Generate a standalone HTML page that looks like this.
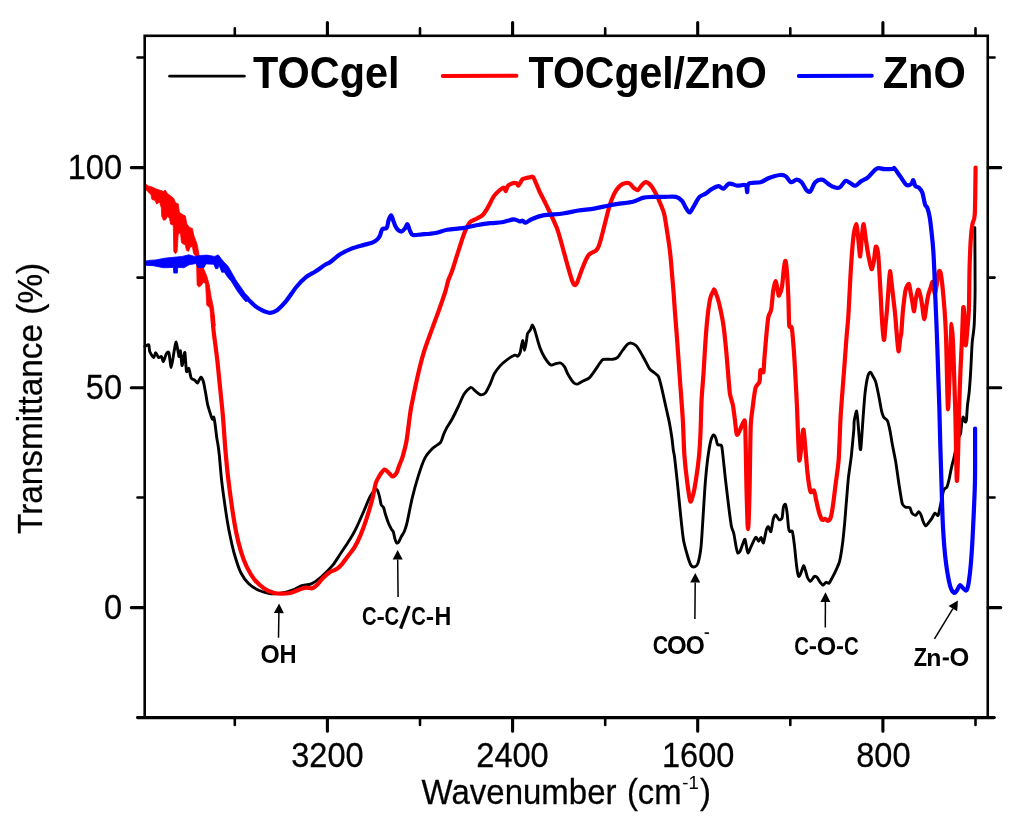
<!DOCTYPE html>
<html><head><meta charset="utf-8"><title>FTIR</title>
<style>
html,body{margin:0;padding:0;background:#fff;}
body{width:1024px;height:825px;overflow:hidden;font-family:"Liberation Sans",sans-serif;}
svg{display:block;will-change:transform;opacity:0.9999}
text{font-family:"Liberation Sans",sans-serif;fill:#000}
.tk{font-size:32.7px;stroke:#000;stroke-width:0.25px}
.lg{font-size:41px;font-weight:bold}
</style></head><body>
<svg width="1024" height="825" viewBox="0 0 1024 825">
<rect width="1024" height="825" fill="#fff"/>
<!-- curves -->
<path d="M144.9 346.5C145.0 346.4 145.4 346.1 145.9 345.9C146.4 345.7 148.3 344.2 148.8 344.9C149.3 345.6 149.2 350.3 149.8 351.8C150.4 353.3 153.0 357.5 153.7 357.6C154.4 357.7 155.0 352.7 155.6 352.7C156.2 352.7 157.9 357.1 158.6 357.6C159.3 358.1 160.9 356.1 161.5 356.6C162.1 357.1 162.8 361.8 163.4 361.5C164.0 361.2 165.7 354.8 166.4 353.7C167.1 352.6 168.3 351.1 168.9 352.7C169.5 354.3 170.6 367.6 171.2 367.4C171.9 367.2 173.6 353.8 174.2 350.8C174.8 347.8 175.6 341.9 176.1 342.0C176.6 342.1 177.7 350.0 178.1 351.8C178.5 353.6 178.8 356.7 179.1 356.6C179.4 356.5 180.1 349.7 180.4 350.8C180.7 351.9 181.6 364.5 182.0 365.4C182.4 366.3 183.1 360.1 183.4 358.6C183.7 357.1 184.5 351.2 184.9 352.7C185.3 354.2 186.0 369.4 186.5 371.3C187.0 373.2 188.2 367.6 188.8 368.4C189.4 369.2 190.5 376.7 191.2 378.1C191.9 379.5 193.9 379.5 194.7 380.1C195.5 380.7 196.9 383.4 197.6 383.0C198.3 382.6 200.2 377.2 200.9 377.1C201.6 377.0 203.0 380.2 203.5 382.0C204.0 383.8 204.9 389.2 205.4 391.8C205.9 394.4 206.9 401.0 207.4 403.5C207.9 406.0 209.3 410.4 209.9 412.3C210.5 414.2 211.8 418.5 212.3 419.1C212.8 419.7 213.5 416.5 213.8 417.2C214.1 417.9 214.9 422.7 215.2 425.0C215.5 427.3 216.3 434.2 216.6 436.7C216.9 439.2 217.8 443.3 218.1 445.5C218.4 447.7 218.9 450.9 219.3 455.0C219.7 459.1 220.8 472.9 221.5 479.3C222.2 485.7 224.5 502.3 225.4 508.6C226.3 514.9 228.2 526.6 229.3 532.0C230.4 537.4 232.8 548.6 234.2 553.5C235.6 558.4 239.2 569.4 241.0 573.0C242.8 576.6 246.7 581.7 248.8 583.8C250.9 585.9 256.2 589.1 258.6 590.2C261.0 591.3 266.1 592.8 268.4 593.2C270.7 593.6 275.8 593.8 278.1 593.6C280.4 593.4 286.0 592.1 287.9 591.6C289.8 591.1 292.1 590.3 293.8 589.6C295.4 588.9 299.5 586.4 301.6 585.7C303.7 585.0 309.0 584.8 311.3 583.8C313.6 582.8 318.5 579.2 321.1 577.0C323.7 574.8 330.5 568.0 332.8 565.2C335.1 562.4 338.7 556.3 340.6 553.5C342.5 550.7 346.5 544.8 348.4 541.8C350.3 538.8 354.4 531.9 356.2 528.1C358.1 524.3 362.5 514.2 364.1 510.5C365.7 506.8 368.6 499.4 369.9 496.9C371.2 494.4 373.9 490.8 374.8 490.0C375.7 489.2 376.8 489.3 377.3 490.0C377.8 490.7 378.8 494.1 379.3 495.9C379.8 497.7 380.7 503.3 381.2 504.7C381.8 506.1 383.1 506.4 383.6 507.6C384.1 508.8 384.9 512.6 385.5 514.5C386.1 516.4 387.8 521.4 388.5 523.2C389.2 525.0 390.8 528.0 391.4 529.1C392.0 530.2 393.0 530.8 393.4 532.0C393.8 533.2 394.5 537.6 394.9 538.9C395.3 540.2 396.2 542.6 396.6 543.0C397.0 543.4 398.0 542.9 398.6 542.1C399.2 541.3 400.8 537.5 401.5 536.2C402.2 534.9 403.7 533.1 404.4 531.3C405.1 529.5 406.4 525.6 407.3 521.6C408.2 517.6 410.9 503.5 412.2 498.1C413.5 492.7 416.6 481.4 418.1 476.6C419.6 471.8 423.1 461.5 424.9 458.1C426.7 454.7 430.8 450.2 432.7 448.3C434.6 446.4 439.2 444.1 440.5 442.5C441.8 440.9 442.8 436.3 443.5 434.6C444.2 432.9 445.3 430.3 446.4 428.4C447.5 426.5 450.9 421.3 452.3 418.7C453.7 416.1 456.7 409.9 458.1 407.0C459.5 404.1 462.5 396.7 464.0 394.3C465.5 391.9 469.4 387.8 470.8 387.4C472.2 387.0 474.5 390.4 475.7 391.3C476.9 392.2 479.4 394.6 480.6 394.8C481.8 395.0 484.3 394.3 485.5 392.9C486.7 391.5 489.3 385.8 490.4 383.5C491.5 381.2 493.1 375.9 494.3 373.8C495.5 371.6 498.5 367.7 500.1 365.9C501.7 364.1 506.1 360.4 507.9 359.1C509.7 357.8 513.6 355.5 514.8 355.2C516.0 354.9 517.1 356.5 517.7 356.2C518.3 355.9 519.6 354.2 520.2 352.3C520.8 350.4 522.1 340.7 522.6 340.5C523.1 340.3 524.0 350.3 524.5 350.3C525.0 350.3 526.1 342.5 526.5 340.5C526.9 338.5 527.0 335.0 527.5 333.7C528.0 332.4 529.8 330.9 530.4 329.8C531.0 328.7 531.8 325.0 532.3 324.9C532.8 324.8 533.7 327.2 534.3 328.8C534.9 330.4 536.5 336.2 537.2 338.6C537.9 341.0 539.3 346.1 540.2 348.4C541.1 350.7 543.7 356.1 545.0 358.1C546.3 360.1 549.6 364.3 550.9 365.0C552.2 365.7 554.6 363.8 555.8 363.6C557.0 363.4 559.6 362.6 560.7 363.0C561.8 363.4 563.7 365.6 564.6 366.9C565.5 368.2 566.7 372.1 567.8 374.0C568.9 375.9 572.5 381.6 573.7 382.8C574.9 384.0 576.4 384.3 577.6 384.1C578.8 383.9 582.0 381.5 583.4 380.8C584.8 380.1 587.9 379.2 589.3 377.9C590.7 376.6 593.7 372.2 595.2 370.1C596.7 368.0 600.7 361.6 602.0 360.3C603.3 359.0 604.6 359.4 605.9 359.3C607.2 359.2 611.3 359.5 612.7 359.3C614.1 359.1 616.4 358.5 617.6 357.4C618.8 356.3 621.3 352.1 622.5 350.5C623.7 348.9 626.3 345.2 627.4 344.3C628.5 343.4 630.2 342.9 631.3 343.1C632.4 343.3 635.1 344.7 636.2 345.7C637.3 346.7 639.0 349.7 640.1 351.5C641.2 353.3 643.8 358.2 645.0 360.3C646.2 362.4 648.6 367.6 649.8 369.1C651.0 370.6 653.6 372.1 654.7 373.0C655.8 373.9 657.8 375.1 658.6 376.9C659.4 378.7 660.8 384.3 661.6 387.7C662.4 391.1 664.6 401.0 665.5 405.2C666.4 409.4 668.7 419.0 669.4 422.8C670.1 426.6 671.2 433.2 671.7 436.5C672.2 439.8 673.0 447.5 673.3 450.0C673.6 452.5 674.1 453.1 674.6 457.3C675.1 461.5 676.9 477.9 677.6 484.7C678.3 491.5 679.8 507.4 680.5 514.0C681.2 520.6 682.6 534.5 683.4 539.4C684.2 544.3 686.4 551.8 687.3 555.0C688.2 558.2 690.3 564.3 691.2 565.7C692.2 567.1 694.4 567.0 695.2 566.7C696.0 566.4 697.4 565.1 698.1 562.8C698.8 560.5 700.4 552.6 701.0 547.2C701.6 541.8 702.5 525.6 703.0 517.9C703.5 510.2 704.7 490.0 705.3 482.7C705.9 475.4 707.2 462.3 707.9 457.3C708.6 452.3 710.1 443.4 710.8 440.7C711.5 438.0 713.1 435.2 713.7 434.9C714.3 434.6 715.2 436.6 715.7 437.8C716.2 439.0 716.9 443.7 717.6 444.6C718.3 445.5 720.9 444.3 721.5 445.6C722.1 446.9 722.4 451.4 722.9 455.4C723.4 459.4 724.7 472.9 725.4 478.8C726.1 484.7 727.7 498.6 728.4 504.2C729.1 509.8 730.7 522.2 731.3 525.7C731.9 529.2 733.2 530.9 733.8 533.5C734.4 536.1 735.7 544.9 736.2 547.2C736.7 549.5 737.2 552.5 737.7 553.0C738.2 553.5 739.5 552.3 740.1 551.1C740.7 549.9 742.4 544.7 743.0 543.3C743.6 541.9 744.5 538.7 745.0 539.4C745.5 540.1 746.5 547.5 746.9 549.1C747.3 550.7 747.8 553.2 748.3 553.0C748.8 552.8 749.9 549.1 750.8 547.2C751.7 545.3 754.8 538.1 755.7 537.4C756.6 536.7 758.0 541.3 758.6 541.3C759.2 541.3 760.4 537.2 761.0 537.4C761.6 537.6 762.9 543.8 763.5 542.9C764.1 542.0 765.8 531.5 766.4 529.6C767.0 527.7 767.9 526.5 768.4 526.7C768.9 526.9 770.3 532.5 770.9 531.6C771.5 530.7 772.7 520.9 773.3 518.9C773.9 516.9 774.9 514.9 775.6 515.0C776.3 515.1 778.3 519.5 779.1 519.8C779.9 520.1 781.6 519.4 782.1 517.9C782.6 516.4 783.0 508.7 783.4 507.1C783.8 505.5 785.0 503.6 785.4 504.2C785.8 504.8 786.6 509.2 787.0 512.0C787.4 514.8 788.2 525.3 788.5 527.7C788.8 530.1 789.4 531.1 789.9 531.6C790.4 532.1 791.9 530.0 792.4 531.6C792.9 533.2 793.9 541.0 794.4 545.2C794.9 549.4 796.2 562.9 796.7 566.7C797.2 570.5 798.2 575.8 798.7 576.5C799.2 577.2 800.4 573.9 801.0 572.6C801.6 571.3 803.1 565.9 803.6 565.7C804.1 565.5 805.0 569.2 805.5 570.6C806.0 572.0 806.9 576.2 807.5 577.5C808.1 578.8 809.6 581.5 810.4 581.4C811.2 581.3 813.5 577.0 814.3 576.5C815.1 576.0 816.5 576.8 817.2 577.5C817.9 578.2 819.5 581.4 820.2 582.3C820.9 583.2 822.4 585.3 823.1 585.3C823.8 585.3 825.3 582.5 826.0 582.3C826.7 582.1 828.2 583.8 828.9 583.3C829.6 582.8 831.1 579.9 831.9 578.4C832.7 576.9 834.9 572.7 835.8 570.6C836.7 568.5 838.9 564.2 839.7 560.9C840.5 557.6 842.0 547.8 842.6 543.3C843.2 538.8 844.1 528.9 844.6 523.8C845.1 518.6 846.0 505.9 846.5 500.3C847.0 494.7 847.9 482.3 848.5 476.9C849.1 471.5 850.8 461.0 851.4 455.4C852.0 449.8 853.4 434.1 853.8 430.0C854.1 425.9 853.9 423.3 854.2 421.0C854.6 418.7 856.1 410.6 856.6 411.1C857.1 411.6 857.8 420.3 858.2 424.8C858.6 429.3 859.8 445.6 860.1 448.2C860.4 450.8 860.8 449.8 861.1 446.3C861.4 442.8 862.5 425.3 863.0 419.0C863.5 412.7 864.4 398.8 865.0 393.6C865.6 388.4 867.2 378.6 867.9 376.0C868.6 373.4 869.9 372.1 870.5 372.1C871.1 372.1 872.2 374.8 872.8 376.0C873.4 377.2 875.0 379.5 875.7 381.8C876.4 384.1 878.0 392.0 878.7 395.5C879.4 399.0 881.0 408.5 881.6 411.1C882.2 413.7 882.9 415.8 883.6 417.0C884.3 418.2 886.7 419.3 887.5 420.9C888.3 422.5 889.4 427.9 890.0 430.7C890.6 433.5 891.6 440.6 892.3 444.3C893.0 448.0 894.9 457.1 895.7 461.8C896.5 466.5 898.1 478.7 898.9 483.7C899.7 488.7 901.4 500.5 902.2 503.3C903.0 506.1 904.6 506.7 905.5 507.2C906.4 507.7 909.0 507.0 909.8 507.7C910.6 508.4 911.3 512.2 912.0 513.1C912.7 514.0 914.9 515.5 915.7 515.3C916.5 515.1 917.9 511.6 918.6 511.6C919.3 511.6 920.7 514.2 921.2 515.3C921.7 516.4 922.4 519.5 922.9 520.8C923.4 522.1 924.9 525.5 925.6 525.8C926.3 526.1 927.7 523.9 928.4 523.0C929.1 522.1 930.9 519.8 931.7 518.6C932.5 517.4 934.1 513.5 934.9 513.1C935.7 512.7 937.5 516.2 938.2 515.3C938.9 514.4 939.7 508.5 940.4 505.5C941.1 502.5 942.9 492.4 943.7 490.2C944.5 488.0 946.4 488.2 947.0 486.9C947.6 485.6 948.6 481.5 949.1 479.3C949.6 477.1 950.8 470.8 951.3 468.4C951.8 466.0 952.9 462.0 953.5 459.6C954.1 457.2 955.4 450.6 956.0 448.0C956.6 445.4 957.9 439.7 958.5 438.0C959.1 436.3 960.2 435.2 960.6 433.5C961.0 431.8 961.3 425.8 961.6 423.8C961.9 421.8 962.7 417.2 963.1 417.0C963.5 416.8 964.7 421.6 965.1 421.9C965.5 422.2 966.1 421.8 966.4 419.9C966.7 418.0 967.1 409.8 967.4 406.3C967.7 402.8 968.9 395.4 969.3 390.8C969.7 386.2 970.6 373.4 970.9 367.6C971.2 361.8 971.8 347.5 972.2 342.4C972.6 337.3 973.9 331.2 974.2 324.9C974.5 318.6 975.0 301.7 975.1 290.0C975.2 278.3 974.8 235.1 974.8 227.6" fill="none" stroke="#000" stroke-width="2.9" stroke-linejoin="round" stroke-linecap="round"/>
<polygon points="144.4,183.2 148.2,185.9 152.0,187.0 156.4,189.0 160.2,190.3 163.5,191.4 165.3,190.1 167.3,193.5 170.5,195.7 173.8,198.5 175.5,202.8 178.2,203.9 179.3,212.1 182.0,214.3 185.3,215.9 186.9,224.1 189.6,227.4 192.4,228.5 194.0,236.1 196.2,241.5 197.5,246.0 198.9,254.4 203.2,267.7 206.8,276.2 209.2,284.7 211.1,296.8 213.5,307.7 215.3,325.9 211.8,327.0 211.1,319.8 209.8,307.7 206.8,305.3 205.6,283.5 203.2,282.3 201.4,285.3 198.9,287.1 197.1,284.7 196.5,257.4 193.5,253.2 192.4,246.5 190.2,247.0 188.5,251.4 186.4,250.3 185.3,244.8 183.6,244.3 181.5,242.6 180.4,232.8 178.2,233.9 177.1,251.4 175.5,253.8 173.8,251.4 173.3,225.2 170.5,224.1 169.5,218.1 167.3,216.5 165.6,219.7 163.5,220.3 161.8,216.5 161.3,207.7 159.6,202.3 156.4,203.9 155.3,200.6 152.0,199.5 150.9,194.6 147.6,191.4 144.4,188.1" fill="#ff0000" stroke="#ff0000" stroke-width="0.8" stroke-linejoin="round"/>
<path d="M212.6 316.0C212.7 317.7 212.8 323.8 213.4 329.3C214.0 334.8 216.2 351.0 217.1 358.6C218.0 366.2 219.3 380.3 220.1 387.9C220.9 395.5 222.3 409.1 223.0 417.2C223.7 425.3 224.7 441.9 225.4 450.0C226.1 458.1 227.4 471.7 228.3 479.3C229.2 486.9 231.2 501.7 232.2 508.6C233.2 515.5 235.0 526.4 236.1 532.0C237.2 537.6 239.6 547.0 241.0 551.6C242.4 556.2 245.1 563.5 246.9 567.2C248.7 570.9 252.4 577.1 254.7 579.9C257.0 582.7 262.0 587.0 264.5 588.7C267.0 590.4 271.9 592.4 274.2 593.0C276.5 593.6 280.0 593.6 282.0 593.6C284.0 593.6 288.0 593.3 289.8 593.0C291.6 592.7 294.2 591.6 295.7 591.0C297.2 590.4 300.2 589.1 301.6 588.7C303.0 588.3 305.0 587.8 306.4 587.7C307.8 587.6 310.9 588.7 312.3 588.3C313.7 587.9 315.8 586.2 317.2 584.8C318.6 583.4 321.3 579.6 323.0 577.9C324.7 576.2 328.1 573.2 329.9 572.1C331.7 571.0 335.0 570.2 336.7 569.1C338.4 568.0 341.1 565.1 342.6 563.3C344.1 561.5 346.9 557.5 348.4 555.5C349.9 553.5 352.8 550.2 354.3 547.7C355.8 545.2 358.7 539.5 360.2 535.9C361.7 532.3 364.5 524.9 366.0 520.3C367.5 515.7 370.6 505.6 371.9 500.8C373.2 496.0 374.8 486.5 375.8 483.2C376.8 479.9 378.6 477.2 379.7 475.4C380.8 473.6 383.5 469.9 384.6 469.5C385.7 469.1 387.5 471.6 388.5 472.5C389.5 473.4 391.4 476.3 392.4 476.4C393.4 476.5 395.4 474.8 396.3 473.4C397.2 472.0 398.4 467.7 399.2 465.6C400.0 463.5 401.6 460.2 402.5 457.1C403.4 454.0 405.5 446.3 406.4 441.5C407.3 436.7 408.7 424.5 409.3 420.0C409.9 415.5 410.2 412.5 411.2 407.0C412.3 401.5 415.7 384.8 417.3 377.7C418.9 370.6 421.8 358.9 423.8 352.3C425.8 345.7 430.7 332.8 432.8 326.9C434.9 321.0 438.4 311.9 440.0 307.3C441.6 302.7 444.2 295.2 445.3 291.7C446.4 288.2 447.5 282.7 448.4 280.0C449.3 277.3 450.7 274.8 452.0 271.1C453.3 267.4 456.6 256.4 458.2 251.6C459.8 246.8 462.5 237.8 464.0 234.0C465.5 230.2 468.3 224.3 469.9 222.3C471.5 220.3 474.9 219.6 476.5 218.8C478.1 217.9 480.9 216.7 482.3 215.4C483.7 214.1 485.7 211.1 487.2 208.6C488.7 206.1 492.4 198.3 494.1 195.9C495.8 193.5 498.6 191.1 499.9 190.0C501.2 188.9 503.0 187.4 503.8 187.5C504.6 187.6 505.3 191.2 505.8 191.0C506.3 190.8 506.8 187.1 507.7 186.1C508.6 185.1 511.5 183.6 512.6 183.2C513.7 182.8 515.7 182.9 516.5 183.2C517.3 183.5 517.7 186.0 518.5 185.5C519.3 185.0 521.5 180.2 522.4 179.3C523.3 178.4 524.3 178.6 525.3 178.3C526.3 178.0 528.9 177.4 530.0 177.3C531.1 177.2 532.2 175.5 533.4 177.3C534.6 179.1 537.5 187.2 539.3 191.0C541.1 194.8 544.8 201.8 547.1 206.6C549.4 211.4 554.9 222.8 556.9 228.1C558.9 233.4 561.2 242.4 562.7 247.7C564.2 253.0 567.3 264.7 568.6 269.1C569.9 273.5 571.7 279.7 572.5 281.8C573.3 283.9 574.4 285.2 575.0 285.2C575.6 285.2 576.6 283.6 577.4 281.8C578.2 280.0 580.3 273.8 581.3 271.1C582.3 268.4 584.2 263.5 585.2 261.3C586.2 259.1 587.7 255.9 589.1 254.5C590.5 253.1 594.6 251.7 595.9 250.6C597.2 249.5 598.0 248.1 598.9 245.7C599.8 243.3 601.7 236.3 602.8 232.0C603.9 227.7 606.6 216.7 607.7 212.5C608.8 208.3 610.5 202.7 611.6 199.8C612.7 196.9 615.0 192.0 616.4 190.0C617.8 188.0 620.6 185.1 622.3 184.2C624.0 183.3 627.6 182.7 629.1 183.2C630.6 183.7 632.9 187.2 634.0 188.1C635.1 189.0 636.9 190.4 637.9 190.0C638.9 189.6 640.8 186.2 641.8 185.2C642.8 184.2 644.6 182.2 645.7 182.2C646.8 182.2 649.3 183.8 650.6 185.2C651.9 186.6 654.2 190.6 655.5 193.0C656.8 195.4 659.3 200.9 660.4 203.7C661.5 206.5 663.4 210.8 664.3 214.5C665.2 218.2 666.4 226.9 667.2 232.0C668.0 237.1 669.6 247.9 670.2 253.5C670.8 259.1 671.7 269.9 672.1 275.0C672.5 280.1 673.2 287.3 673.6 292.6C674.0 297.9 674.7 309.1 675.2 315.4C675.7 321.7 676.7 333.9 677.2 340.8C677.7 347.7 678.6 361.0 679.1 368.1C679.6 375.2 680.6 388.4 681.1 395.5C681.6 402.6 682.6 415.0 683.0 422.8C683.4 430.6 683.8 447.6 684.4 455.4C685.0 463.2 686.5 476.7 687.3 482.7C688.1 488.7 689.5 499.8 690.3 501.3C691.1 502.8 692.4 497.4 693.2 494.5C694.0 491.6 695.3 483.9 696.1 478.8C696.9 473.7 698.5 461.7 699.1 455.4C699.7 449.1 700.3 437.3 700.6 430.0C700.9 422.7 701.2 406.9 701.6 399.4C702.0 391.9 703.1 379.6 703.6 372.0C704.1 364.4 705.0 347.9 705.5 340.8C706.0 333.7 706.9 322.9 707.5 317.3C708.1 311.7 709.6 301.2 710.4 297.8C711.2 294.4 712.8 292.1 713.3 291.0C713.8 289.9 713.7 289.2 714.1 289.6C714.5 290.0 715.6 292.1 716.2 293.9C716.9 295.7 718.5 300.9 719.2 303.7C719.9 306.5 721.1 312.4 721.7 315.4C722.3 318.4 723.1 322.8 723.7 327.1C724.3 331.4 725.4 342.8 726.0 348.6C726.6 354.4 727.5 366.2 728.0 372.0C728.5 377.8 729.3 389.2 729.9 393.5C730.5 397.8 732.3 401.9 732.9 405.2C733.5 408.5 734.3 415.1 734.8 418.9C735.3 422.7 736.2 433.0 736.8 434.5C737.4 436.0 738.8 432.3 739.7 430.6C740.6 428.9 742.9 422.4 743.6 421.8C744.3 421.2 744.8 417.3 745.2 426.0C745.6 434.7 746.2 475.7 746.5 488.6C746.8 501.5 747.4 520.7 747.6 525.5C747.8 530.3 748.1 530.3 748.4 525.5C748.7 520.7 749.3 501.4 749.6 488.6C749.9 475.8 750.3 437.3 750.7 426.7C751.1 416.1 752.1 412.3 752.7 407.2C753.3 402.1 754.7 391.0 755.6 387.7C756.5 384.4 758.9 384.1 759.5 381.8C760.1 379.5 760.0 371.4 760.5 370.1C761.0 368.8 762.9 373.5 763.4 372.0C763.9 370.5 764.0 363.2 764.4 358.4C764.8 353.6 765.9 340.2 766.4 334.9C766.9 329.6 767.7 320.6 768.3 317.3C768.9 314.0 770.6 313.0 771.2 309.5C771.9 306.0 772.6 294.3 773.2 290.6C773.8 286.9 775.2 281.0 775.8 281.2C776.4 281.5 777.7 290.7 778.1 292.6C778.5 294.5 778.6 296.3 779.1 295.5C779.6 294.7 781.4 290.4 782.0 286.7C782.6 283.0 783.5 270.6 784.0 267.2C784.5 263.8 785.1 260.4 785.5 260.9C785.9 261.4 786.5 266.2 786.9 271.1C787.3 276.0 788.1 291.4 788.4 298.4C788.7 305.4 788.8 321.3 789.2 325.2C789.6 329.1 791.2 325.1 791.8 328.1C792.4 331.1 793.2 342.1 793.7 348.6C794.2 355.1 795.1 370.3 795.5 377.9C795.9 385.5 796.7 399.9 797.0 407.2C797.3 414.5 797.7 427.1 798.0 434.0C798.3 440.9 798.9 458.3 799.3 460.3C799.7 462.3 800.6 452.9 801.0 449.5C801.4 446.1 802.2 436.4 802.5 433.9C802.8 431.4 803.3 428.7 803.6 430.0C803.9 431.3 804.5 438.1 805.0 443.7C805.5 449.3 806.8 466.8 807.5 473.0C808.2 479.2 809.6 489.2 810.4 491.5C811.2 493.8 813.1 489.4 813.9 490.5C814.7 491.6 815.6 497.4 816.2 500.3C816.9 503.2 818.4 510.5 819.2 513.0C820.0 515.5 821.3 519.0 822.1 519.8C822.9 520.6 824.2 518.8 825.0 518.9C825.8 519.0 827.2 521.1 828.0 520.8C828.8 520.5 830.2 519.3 830.9 516.9C831.6 514.5 832.8 506.7 833.4 502.3C834.0 497.9 835.1 488.3 835.8 482.7C836.5 477.1 838.1 467.8 838.7 459.3C839.3 450.8 840.0 427.6 840.6 417.0C841.2 406.4 842.7 388.1 843.5 377.9C844.3 367.7 845.8 346.9 846.4 338.8C847.0 330.7 847.9 323.4 848.4 315.4C848.9 307.4 849.8 287.1 850.4 277.0C851.0 266.9 852.5 244.8 853.3 237.9C854.1 231.0 855.6 224.2 856.2 224.2C856.9 224.2 857.7 233.7 858.2 237.9C858.7 242.1 859.7 256.9 860.2 256.4C860.7 255.9 861.6 238.2 862.1 234.0C862.6 229.8 863.2 223.7 863.7 224.2C864.2 224.7 865.0 233.8 865.6 237.9C866.2 242.0 867.6 251.4 868.4 255.5C869.2 259.6 870.8 268.3 871.5 269.1C872.2 269.9 873.2 264.2 873.8 261.3C874.4 258.4 875.2 247.7 875.8 246.7C876.4 245.7 877.6 249.6 878.1 253.5C878.6 257.4 879.2 269.2 879.7 277.0C880.2 284.8 881.1 305.2 881.6 313.4C882.1 321.6 883.4 338.3 883.9 339.8C884.4 341.3 885.1 328.9 885.5 325.0C885.9 321.1 886.6 314.8 887.0 309.7C887.4 304.6 888.3 291.0 888.7 286.0C889.1 281.0 889.6 271.5 890.0 271.2C890.4 270.9 891.3 280.5 891.7 284.0C892.1 287.5 892.8 293.8 893.3 298.0C893.8 302.2 894.9 311.7 895.3 316.0C895.7 320.3 896.1 326.4 896.5 331.0C896.9 335.6 898.0 350.4 898.5 351.3C899.0 352.2 899.9 340.4 900.3 338.0C900.7 335.6 900.9 336.6 901.3 333.0C901.7 329.4 902.4 315.6 903.0 310.0C903.6 304.4 904.8 293.4 905.6 290.0C906.4 286.6 908.2 283.5 908.9 284.0C909.6 284.5 910.3 291.0 910.8 293.5C911.3 296.0 912.1 300.7 912.5 303.0C912.9 305.3 913.7 311.6 914.1 311.3C914.5 311.0 915.0 303.8 915.5 301.0C916.0 298.2 917.6 290.2 918.2 289.6C918.9 289.0 920.0 293.9 920.5 296.0C921.0 298.1 921.7 302.5 922.2 305.5C922.7 308.5 923.7 319.2 924.3 319.1C924.9 319.0 926.0 308.3 926.5 305.0C927.0 301.7 928.0 296.2 928.5 294.0C929.0 291.8 930.0 289.6 930.5 288.0C931.0 286.4 932.2 281.3 932.7 282.0C933.2 282.7 934.2 293.0 934.7 293.5C935.2 294.0 936.1 288.5 936.6 285.7C937.1 282.9 938.0 274.0 938.5 272.2C939.0 270.4 940.0 270.4 940.5 272.2C941.0 274.0 941.9 280.9 942.4 285.7C942.9 290.5 944.0 302.5 944.5 309.4C945.0 316.3 945.8 329.7 946.1 338.5C946.4 347.3 946.8 368.1 947.0 377.3C947.2 386.5 947.7 409.3 948.0 409.3C948.3 409.3 949.1 386.5 949.5 377.3C949.9 368.1 950.6 345.4 950.9 338.5C951.2 331.6 951.3 323.9 951.5 323.9C951.7 323.9 952.4 331.6 952.8 338.5C953.2 345.4 953.9 367.2 954.2 377.3C954.5 387.4 955.1 402.6 955.4 416.0C955.7 429.4 956.4 476.0 956.8 480.4C957.2 484.8 957.9 459.6 958.2 450.0C958.5 440.4 958.9 417.0 959.2 406.3C959.5 395.6 960.2 376.4 960.6 367.6C961.0 358.8 961.7 346.1 962.0 338.5C962.3 330.9 962.9 313.2 963.1 309.4C963.3 305.6 963.7 306.9 963.9 309.4C964.1 311.9 964.7 324.1 964.9 328.8C965.1 333.5 965.5 345.3 965.8 345.3C966.1 345.3 967.0 333.5 967.4 328.8C967.8 324.1 968.6 317.5 968.9 309.4C969.2 301.3 969.3 275.7 969.6 266.3C969.9 256.9 970.5 242.8 970.9 237.3C971.3 231.8 972.0 226.7 972.5 223.7C973.0 220.7 974.4 221.3 974.8 214.0C975.2 206.7 975.5 173.5 975.6 167.5" fill="none" stroke="#ff0000" stroke-width="4.2" stroke-linejoin="round" stroke-linecap="round"/>
<polygon points="144.4,261.3 148.8,260.4 155.8,259.9 164.6,258.2 173.4,257.3 182.2,256.4 188.8,254.8 194.5,256.4 200.6,255.5 206.8,255.1 214.7,256.4 218.2,254.8 220.8,258.2 224.4,262.6 227.9,266.0 230.0,269.5 235.9,280.0 240.8,287.1 245.0,293.2 249.0,297.5 246.0,302.0 242.0,297.4 237.1,290.8 231.1,281.0 227.9,277.5 224.4,272.2 221.7,272.2 219.1,265.2 217.8,268.7 215.6,268.7 213.8,264.3 205.9,263.9 204.1,267.4 198.0,267.8 196.2,263.5 189.2,264.8 183.9,267.8 177.8,267.4 177.3,273.1 173.8,273.1 173.4,267.4 163.7,267.8 153.2,265.7 144.4,265.2" fill="#0000ff" stroke="#0000ff" stroke-width="0.8" stroke-linejoin="round"/>
<path d="M245.5 297.0C245.8 297.3 245.5 297.0 247.4 298.7C249.3 300.4 253.8 305.3 257.2 307.5C260.6 309.7 265.8 312.2 268.9 312.7C272.0 313.2 273.9 312.3 276.7 310.4C279.5 308.5 283.4 304.3 286.5 300.6C289.6 296.9 293.2 290.7 296.3 287.0C299.4 283.3 302.9 279.7 306.0 277.2C309.1 274.7 312.7 273.3 315.8 271.3C318.9 269.3 323.2 265.9 325.5 264.5C327.8 263.1 327.7 263.9 330.0 262.3C332.3 260.7 336.4 256.7 339.8 254.5C343.2 252.3 347.8 250.1 351.5 248.6C355.2 247.1 359.9 246.0 363.2 245.1C366.5 244.2 369.8 243.6 372.0 242.8C374.2 242.0 375.7 240.9 376.9 239.8C378.1 238.7 378.9 237.6 379.8 235.9C380.7 234.2 381.2 230.3 382.3 229.1C383.4 227.9 385.6 229.5 386.6 228.1C387.6 226.7 387.9 222.3 388.6 220.3C389.3 218.3 390.3 215.2 391.1 215.4C391.9 215.6 392.7 219.3 393.5 221.3C394.3 223.3 395.2 226.5 396.4 228.1C397.6 229.7 399.9 231.6 401.3 231.6C402.7 231.6 404.2 229.3 405.2 228.1C406.2 226.9 406.7 223.7 407.5 224.2C408.3 224.7 409.2 229.4 410.1 231.1C411.0 232.8 411.1 234.5 413.0 235.0C414.9 235.5 418.2 234.7 421.8 234.4C425.4 234.1 431.4 233.8 435.5 233.0C439.6 232.2 442.8 230.5 447.2 229.7C451.6 228.9 458.1 228.8 462.8 228.1C467.5 227.4 472.1 226.0 476.5 225.2C480.9 224.4 486.1 223.7 490.2 223.2C494.3 222.7 498.2 222.9 501.9 222.3C505.6 221.7 510.8 219.5 513.6 219.3C516.4 219.1 518.0 221.1 519.5 221.3C521.0 221.5 521.7 220.5 522.7 220.7C523.7 220.9 524.2 222.9 525.6 222.7C527.0 222.5 528.7 220.5 531.5 219.3C534.3 218.1 538.2 216.3 543.2 215.4C548.2 214.5 557.1 214.3 562.7 213.5C568.3 212.7 573.4 211.3 578.4 210.5C583.4 209.7 589.3 209.4 594.0 208.6C598.7 207.8 603.6 206.5 607.7 205.7C611.8 204.9 615.4 204.3 619.4 203.7C623.4 203.1 629.3 202.7 633.0 201.8C636.7 200.9 639.7 198.7 642.8 197.9C645.9 197.1 649.2 197.1 652.6 196.9C656.0 196.7 660.6 196.9 664.3 196.9C668.0 196.9 673.2 196.3 676.0 196.9C678.8 197.5 680.3 199.1 681.9 200.8C683.5 202.5 684.6 205.7 685.8 207.6C687.0 209.5 688.5 212.7 689.7 212.5C690.9 212.3 692.0 209.1 693.6 206.6C695.2 204.1 697.6 198.9 699.5 196.9C701.4 194.9 703.3 195.1 705.3 193.9C707.3 192.7 709.6 190.3 711.7 189.1C713.8 187.9 716.7 186.2 718.6 186.1C720.5 186.0 721.7 189.1 723.4 188.7C725.1 188.3 727.1 184.1 729.3 183.6C731.5 183.1 734.8 185.5 737.1 185.7C739.4 185.9 742.4 184.8 743.9 184.8C745.4 184.8 745.8 184.8 746.3 186.0C746.8 187.2 746.9 192.4 747.3 192.0C747.7 191.6 746.7 185.2 748.8 183.6C750.9 182.0 757.4 183.0 760.5 182.2C763.6 181.4 765.3 179.5 768.4 178.3C771.5 177.1 777.3 175.3 780.1 175.0C782.9 174.7 784.2 175.2 785.9 176.4C787.6 177.6 789.1 181.7 790.8 182.2C792.5 182.7 795.0 179.7 796.7 179.7C798.4 179.7 800.0 180.6 801.6 182.2C803.2 183.8 805.0 188.5 806.4 190.0C807.8 191.5 809.0 192.6 810.4 191.4C811.8 190.2 813.3 184.1 815.2 182.2C817.1 180.3 820.1 179.5 822.1 179.7C824.1 179.9 826.0 182.4 827.9 183.6C829.8 184.8 831.9 186.5 833.8 187.1C835.7 187.7 837.7 188.5 839.6 187.5C841.5 186.5 843.8 181.6 845.5 180.9C847.2 180.2 848.8 182.4 850.4 183.2C852.0 184.0 853.6 186.0 855.3 185.7C857.0 185.4 859.1 182.6 861.1 181.2C863.1 179.9 865.5 179.3 868.0 177.3C870.5 175.3 874.1 169.9 876.8 168.6C879.5 167.3 881.9 169.1 884.6 169.1C887.3 169.1 891.8 169.0 893.4 168.9C895.0 168.8 893.3 167.1 894.5 168.4C895.7 169.7 898.8 174.5 900.7 177.1C902.6 179.7 904.8 183.8 906.5 184.9C908.2 186.0 910.3 184.7 911.4 183.9C912.5 183.1 912.7 179.8 913.3 180.1C913.9 180.4 914.4 184.7 915.3 185.9C916.2 187.1 918.0 186.7 919.1 187.8C920.2 188.9 921.5 190.1 922.4 192.7C923.3 195.3 924.2 201.8 925.0 204.3C925.8 206.8 926.7 206.0 927.5 208.2C928.3 210.4 929.1 213.9 929.8 217.9C930.5 221.9 931.1 228.1 931.7 233.4C932.3 238.7 932.9 244.9 933.3 250.8C933.7 256.7 934.0 263.9 934.3 270.2C934.6 276.5 934.6 281.2 935.0 290.0C935.4 298.8 936.0 312.6 936.5 325.0C937.0 337.4 937.6 354.6 938.0 367.6C938.4 380.6 938.9 393.9 939.3 406.3C939.7 418.7 939.9 432.6 940.3 445.0C940.7 457.4 941.1 470.5 941.5 483.7C941.9 496.9 942.3 514.7 943.0 527.3C943.7 539.9 944.7 552.8 945.9 562.2C947.1 571.6 948.9 581.4 950.2 586.3C951.5 591.2 952.8 592.1 953.9 592.8C955.0 593.5 955.8 591.8 956.8 590.6C957.8 589.4 959.0 585.6 960.0 585.2C961.0 584.8 962.2 587.6 963.3 588.4C964.4 589.2 965.7 591.2 966.6 590.2C967.5 589.2 968.1 586.4 968.8 581.9C969.5 577.4 970.3 570.9 971.0 562.2C971.7 553.5 972.5 539.9 973.1 527.3C973.7 514.7 974.6 496.1 974.9 483.7C975.2 471.3 975.1 458.8 975.1 450.0C975.1 441.2 975.1 432.0 975.1 428.6" fill="none" stroke="#0000ff" stroke-width="4.2" stroke-linejoin="round" stroke-linecap="round"/>
<!-- frame -->
<rect x="144.7" y="35.8" width="843.05" height="681.6500000000001" fill="none" stroke="#000" stroke-width="2.6"/>
<path d="M327.4 717.95 v13.3 M327.4 35.5 v-12.9 M512.6 717.95 v13.3 M512.6 35.5 v-12.9 M697.7 717.95 v13.3 M697.7 35.5 v-12.9 M882.9 717.95 v13.3 M882.9 35.5 v-12.9 M144.29999999999998 167.6 h-13.0 M988.15 167.6 h12.6 M144.29999999999998 387.7 h-13.0 M988.15 387.7 h12.6 M144.29999999999998 607.6 h-13.0 M988.15 607.6 h12.6" stroke="#000" stroke-width="3.1" fill="none" stroke-linecap="round"/>
<path d="M234.8 717.95 v7.1 M234.8 35.5 v-7.1 M420.0 717.95 v7.1 M420.0 35.5 v-7.1 M605.2 717.95 v7.1 M605.2 35.5 v-7.1 M790.3 717.95 v7.1 M790.3 35.5 v-7.1 M975.5 717.95 v7.1 M975.5 35.5 v-7.1 M144.39999999999998 57.5 h-6.9 M988.05 57.5 h6.5 M144.39999999999998 277.6 h-6.9 M988.05 277.6 h6.5 M144.39999999999998 497.5 h-6.9 M988.05 497.5 h6.5 M144.39999999999998 717.5 h-6.9 M988.05 717.5 h6.5" stroke="#000" stroke-width="2.6" fill="none" stroke-linecap="round"/>
<line x1="137.7" y1="717.6" x2="993.8" y2="717.6" stroke="#000" stroke-width="3.1" stroke-linecap="round"/>
<!-- legend -->
<line x1="169.6" y1="76.2" x2="244.3" y2="76.2" stroke="#000" stroke-width="2.8" stroke-linecap="round"/>
<text class="lg" transform="translate(253.0,88) scale(1.01,1.085)">TOCgel</text>
<line x1="442.8" y1="75.9" x2="516.4" y2="75.8" stroke="#ff0000" stroke-width="4" stroke-linecap="round"/>
<text class="lg" transform="translate(528.6,88) scale(1,1.085)">TOCgel/ZnO</text>
<line x1="798.8" y1="75.9" x2="871.8" y2="75.8" stroke="#0000ff" stroke-width="4" stroke-linecap="round"/>
<text class="lg" transform="translate(882.7,88) scale(1.015,1.085)">ZnO</text>
<!-- tick labels -->
<text class="tk" transform="translate(122.0,178.7) scale(0.995,1.085)" text-anchor="end">100</text>
<text class="tk" transform="translate(122.0,398.8) scale(0.995,1.085)" text-anchor="end">50</text>
<text class="tk" transform="translate(122.0,618.6) scale(0.995,1.085)" text-anchor="end">0</text>
<text class="tk" transform="translate(327.4,766.6) scale(0.995,1.08)" text-anchor="middle">3200</text>
<text class="tk" transform="translate(512.5,766.6) scale(0.995,1.08)" text-anchor="middle">2400</text>
<text class="tk" transform="translate(698.2,766.6) scale(0.995,1.08)" text-anchor="middle">1600</text>
<text class="tk" transform="translate(883.4,766.6) scale(0.995,1.08)" text-anchor="middle">800</text>
<!-- axis titles -->
<text class="tk" transform="translate(421.6,804.2) scale(1.009,1.05)">Wavenumber</text>
<text class="tk" transform="translate(626.9,804.2) scale(1.004,1.05)">(cm</text>
<text transform="translate(682.3,789.4) scale(1,1.0)" font-size="18.5">-1</text>
<text class="tk" transform="translate(700.0,804.2) scale(1.004,1.05)">)</text>
<text class="tk" transform="translate(42.3,398.4) rotate(-90) scale(1.02,1.075)" text-anchor="middle">Transmittance (%)</text>
<!-- annotations -->
<line x1="278.5" y1="637.7" x2="278.9" y2="613.1" stroke="#000" stroke-width="1.5"/><polygon points="279.1,603.5 283.9,613.2 273.9,613.0" fill="#000"/><line x1="398.1" y1="597.0" x2="397.7" y2="559.5" stroke="#000" stroke-width="1.5"/><polygon points="397.6,549.9 402.7,559.4 392.7,559.6" fill="#000"/><line x1="694.9" y1="618.9" x2="695.2" y2="582.5" stroke="#000" stroke-width="1.5"/><polygon points="695.3,572.9 700.2,582.5 690.2,582.5" fill="#000"/><line x1="825.3" y1="627.5" x2="825.4" y2="601.9" stroke="#000" stroke-width="1.5"/><polygon points="825.5,592.3 830.4,601.9 820.4,601.9" fill="#000"/><line x1="934.5" y1="638.8" x2="952.9" y2="608.6" stroke="#000" stroke-width="1.5"/><polygon points="957.9,600.4 957.2,611.2 948.6,606.0" fill="#000"/>
<text transform="matrix(0.2475 0 0 0.2641 260.38 663.14)" font-size="100" font-weight="bold">O</text><text transform="matrix(0.2364 0 0 0.2544 279.62 662.70)" font-size="100" font-weight="bold">H</text><text transform="matrix(0.2019 0 0 0.2571 361.97 625.35)" font-size="100" font-weight="bold">C</text><rect x="377.5" y="617.05" width="6.30" height="2.9" fill="#000"/><text transform="matrix(0.2019 0 0 0.2571 384.47 625.35)" font-size="100" font-weight="bold">C</text><line x1="409.1" y1="606" x2="400.6" y2="628.6" stroke="#000" stroke-width="3.3"/><text transform="matrix(0.2019 0 0 0.2571 411.27 625.35)" font-size="100" font-weight="bold">C</text><rect x="426.8" y="617.05" width="6.30" height="2.9" fill="#000"/><text transform="matrix(0.2330 0 0 0.2558 434.44 625.30)" font-size="100" font-weight="bold">H</text><text transform="matrix(0.2126 0 0 0.2556 652.63 654.15)" font-size="100" font-weight="bold">C</text><text transform="matrix(0.2533 0 0 0.2556 666.96 654.15)" font-size="100" font-weight="bold">O</text><text transform="matrix(0.2447 0 0 0.2556 685.80 654.15)" font-size="100" font-weight="bold">O</text><rect x="704.6" y="632.30" width="4.40" height="1.6" fill="#000"/><text transform="matrix(0.2034 0 0 0.2542 794.37 654.95)" font-size="100" font-weight="bold">C</text><rect x="809.7" y="646.25" width="6.30" height="2.9" fill="#000"/><text transform="matrix(0.2504 0 0 0.2542 816.77 654.95)" font-size="100" font-weight="bold">O</text><rect x="836.9" y="646.25" width="6.10" height="2.9" fill="#000"/><text transform="matrix(0.2034 0 0 0.2542 844.07 654.95)" font-size="100" font-weight="bold">C</text><text transform="matrix(0.2173 0 0 0.2536 913.65 665.85)" font-size="100" font-weight="bold">Z</text><text transform="matrix(0.2485 0 0 0.2423 926.26 665.85)" font-size="100" font-weight="bold">n</text><rect x="942.7" y="657.45" width="6.20" height="2.9" fill="#000"/><text transform="matrix(0.2547 0 0 0.2556 949.56 665.95)" font-size="100" font-weight="bold">O</text>
</svg>
</body></html>
